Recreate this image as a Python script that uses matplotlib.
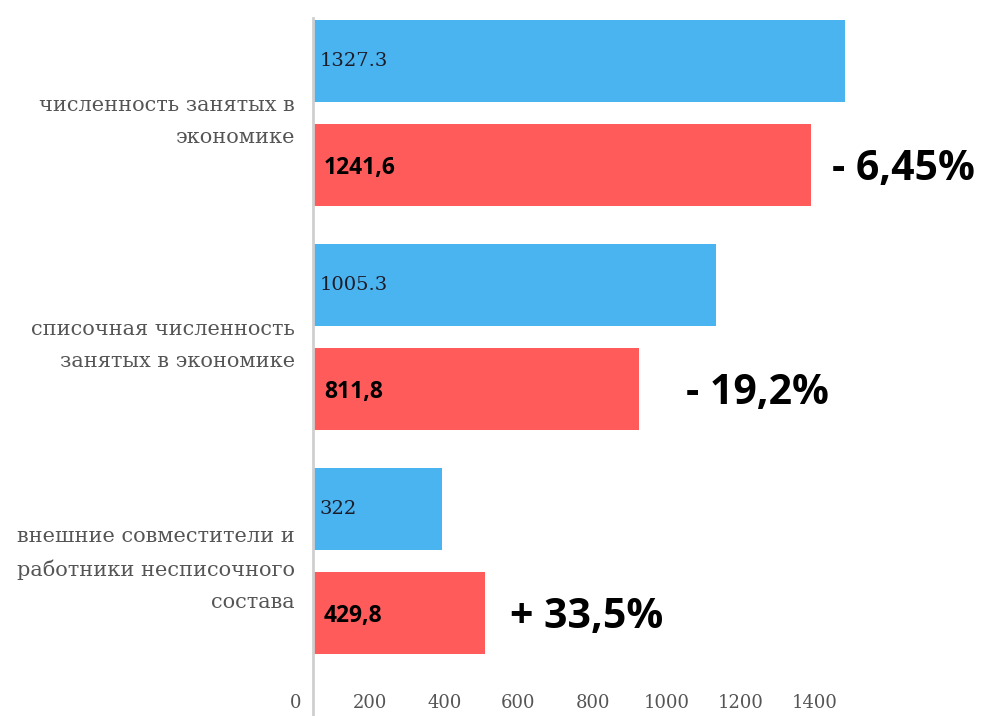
import numpy as np
import matplotlib
matplotlib.use('Agg')
import matplotlib.pyplot as plt

categories = ['численность занятых в\nэкономике',
              'списочная численность\nзанятых в экономике',
              'внешние совместители и\nработники несписочного\nсостава']
before = [1327.3, 1005.3, 322]
after = [1241.6, 811.8, 429.8]
before_labels = ['1327.3', '1005.3', '322']
after_labels = ['1241,6', '811,8', '429,8']
change_labels = ['- 6,45%', '- 19,2%', '+ 33,5%']
ticks = [0, 200, 400, 600, 800, 1000, 1200, 1400]

BLUE = '#4AB4F1'
RED = '#FF5B5B'
GREY = '#555555'

W, H = 981, 716
fig = plt.figure(figsize=(W / 100, H / 100), dpi=100)

# main axes: bars start at the grey line
ax = fig.add_axes([313 / W, 0.0, (870 - 313) / W, 1 - 18 / H])
y = np.arange(len(categories))
off, bh = 0.232, 0.37
ax.barh(y - off, before, height=bh, color=BLUE)
ax.barh(y + off, after, height=bh, color=RED)
ax.set_xlim(0, (870 - 313) / 0.401)
ax.set_ylim((716 - 113) / 224, (18 - 113) / 224)

for s in ['top', 'right', 'bottom']:
    ax.spines[s].set_visible(False)
ax.spines['left'].set_color('#cfcfcf')
ax.spines['left'].set_linewidth(2)
ax.set_xticks([])
ax.set_yticks(y)
ax.set_yticklabels(categories, family='DejaVu Serif', fontsize=15,
                   color=GREY, linespacing=1.85)
ax.tick_params(axis='y', length=0, pad=13)

for i in range(len(categories)):
    ax.annotate(before_labels[i], (0, y[i] - off), xytext=(5, 0),
                textcoords='offset points', va='center', ha='left',
                family='DejaVu Serif', fontsize=14, color='#1c1c28')
    ax.annotate(after_labels[i], (0, y[i] + off), xytext=(8, -2),
                textcoords='offset points', va='center', ha='left',
                family='Open Sans', fontweight='bold', fontsize=16.5, color='black')

pct_offsets = [15, 34, 18]
for i in range(len(categories)):
    ax.annotate(change_labels[i], (after[i], y[i] + off), xytext=(pct_offsets[i], -3),
                textcoords='offset points', va='center', ha='left',
                family='Open Sans', fontweight='bold', fontsize=29.5, color='black',
                annotation_clip=False)

# the value axis of the original picture sits on its own scale
tax = fig.add_axes([285 / W, 1 - 690 / H, (870 - 285) / W, 0.0001])
tax.set_xlim((285 - 296) / 0.3708, (870 - 296) / 0.3708)
tax.set_xticks(ticks)
tax.set_xticklabels([str(t) for t in ticks], family='DejaVu Serif',
                    fontsize=13, color=GREY)
tax.tick_params(axis='x', length=0, pad=3)
tax.set_yticks([])
for s in tax.spines.values():
    s.set_visible(False)
tax.patch.set_alpha(0)

fig.savefig('out.png', dpi=100)
